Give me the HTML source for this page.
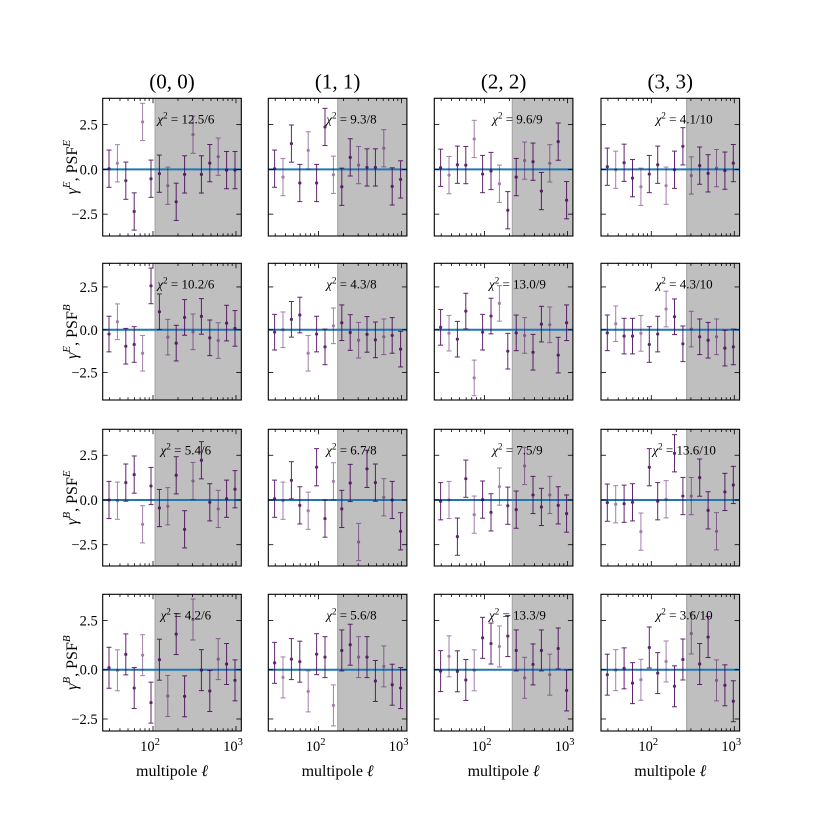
<!DOCTYPE html>
<html><head><meta charset="utf-8"><style>
html,body{margin:0;padding:0;background:#fff}
svg{display:block;font-family:"Liberation Serif","DejaVu Serif",serif}
</style></head><body>
<svg id="fig" width="822" height="822" viewBox="0 0 822 822" xmlns="http://www.w3.org/2000/svg"></svg>
<script>
const colTitles = ["(0, 0)","(1, 1)","(2, 2)","(3, 3)"];
const chiLabels = [["12.5/6","9.3/8","9.6/9","4.1/10"],["10.2/6","4.3/8","13.0/9","4.3/10"],["5.4/6","6.7/8","7.5/9","13.6/10"],["4.2/6","5.6/8","13.3/9","3.6/10"]];
const shadeStart = [106,170,216,267];
const logEllStart = 1.47, logEllStep = 0.1012, nPts = 16;
const yLims = [[-3.72,3.97],[-4.10,3.88],[-3.69,3.95],[-3.11,3.83]];
const yTicks = [-2.5,0,2.5];
const yTickLabels = ["\u22122.5","0.0","2.5"];
const xTicks = [100,1000];
const errVal = 1.04;
const vals00=[0.04,0.34,-0.63,-2.35,2.65,-0.52,-0.24,-0.91,-1.81,-0.28,1.94,-0.28,0.35,0.71,-0.04,-0.04];
const vals01=[0.04,-0.43,1.44,-0.76,1.06,-0.76,2.37,-0.30,-0.97,0.67,0.24,0.11,0.11,1.18,-0.95,-0.56];
const vals02=[0.09,-0.32,0.26,0.24,1.70,-0.26,-0.09,-0.80,-2.28,-0.43,0.49,0.43,-1.21,0.34,1.55,-1.72];
const vals03=[0.15,-0.02,0.37,-0.49,-0.97,-0.26,0.26,-0.91,-0.02,1.29,-0.34,0.21,-0.22,0.07,-0.07,0.35];
const vals10=[-0.25,0.47,-0.96,-0.86,-1.37,2.56,1.05,-0.43,-0.78,0.72,-0.12,0.78,-0.47,-0.63,0.39,0.08];
const vals11=[-0.14,0,0.61,0.86,-1.37,-0.25,-1.0,0.23,0.41,-0.16,-0.61,-0.27,-0.59,-0.41,-0.33,-1.13];
const vals12=[0.14,-0.20,-0.55,1.09,-2.81,-0.14,0.80,1.54,-1.25,-0.18,-0.33,-1.31,0.33,0.29,-1.48,0.41];
const vals13=[-0.18,0.35,-0.37,-0.37,-0.21,-0.86,-0.25,1.21,0.76,-0.82,0.04,-0.41,-0.61,-0.41,-1.07,-1.0];
const vals20=[0,-0.04,0.97,1.42,-1.36,0.78,-0.45,-0.35,1.38,-1.64,1.06,2.22,-0.13,-0.50,0.07,0.60];
const vals21=[0.07,-0.04,1.10,-0.30,-0.60,1.83,-1.04,1.04,-0.50,0.95,-2.35,1.74,0.97,0.15,0,-1.75];
const vals22=[-0.07,0,-2.05,1.19,-0.82,0.02,-0.69,0.75,-0.32,-0.54,1.90,0.28,-0.39,0.28,-0.30,-0.76];
const vals23=[-0.15,-0.24,-0.21,-0.13,-1.77,1.83,-0.07,0.04,2.61,0.22,0.22,1.25,-0.58,-1.75,0.45,0.84];
const vals30=[0.10,-0.03,0.78,-0.93,0.74,-1.67,0.51,-1.33,1.81,-1.35,2.55,-0.02,-1.08,0.54,0.29,-0.54];
const vals31=[0.35,-0.39,0.54,0.41,-1.10,0.79,0.64,-1.81,0.98,1.27,0.64,0.64,-0.57,0.17,-0.76,-0.93];
const vals32=[-0.07,0.68,-0.08,-0.52,-0.03,1.62,1.33,1.18,1.71,0.98,-0.41,0.27,0.98,-0.25,1.08,-1.05];
const vals33=[-0.25,-0.02,0.07,-0.68,-0.51,1.13,-0.17,0.42,-0.84,0.52,1.84,0.29,1.66,-0.54,-0.79,-1.60];
const allVals=[[vals00,vals01,vals02,vals03],[vals10,vals11,vals12,vals13],[vals20,vals21,vals22,vals23],[vals30,vals31,vals32,vals33]];
const rowLabelSup=[["E","E"],["E","B"],["B","E"],["B","B"]];

const NS="http://www.w3.org/2000/svg";
const svg=document.getElementById('fig');
function mk(tag,attrs,parent){const e=document.createElementNS(NS,tag);for(const k in attrs)e.setAttribute(k,attrs[k]);(parent||svg).appendChild(e);return e;}
const colX=[102.7,268.3,434.3,601], pw=138.6;
const rowY=[98.3,263.3,429.3,594.3], ph=[137.7,136.7,136.7,136.7];
const lxMin=1.394,lxMax=3.064;

for(let r=0;r<4;r++){for(let c=0;c<4;c++){
  const x0=colX[c],y0=rowY[r],h=ph[r];
  const ylo=yLims[r][0],yhi=yLims[r][1];
  const sx=v=>x0+(Math.log10(v)-lxMin)/(lxMax-lxMin)*pw;
  const sxl=l=>x0+(l-lxMin)/(lxMax-lxMin)*pw;
  const sy=v=>y0+(yhi-v)/(yhi-ylo)*h;
  const g=mk('g',{});
  
  
  const sh=mk('rect',{x:sx(shadeStart[c]),y:y0,width:x0+pw-sx(shadeStart[c]),height:h,fill:'#bfbfbf'},g);
  
  
  mk('line',{x1:sx(shadeStart[c]),x2:sx(shadeStart[c]),y1:y0,y2:y0+h,stroke:'#a8a8a8','stroke-width':1.2},g);
  const zl=mk('line',{x1:x0,x2:x0+pw,y1:sy(0),y2:sy(0),stroke:'#1f77b4','stroke-width':2},g);
  
  
  const vals=allVals[r][c];
  for(let i=0;i<nPts;i++){
    const l=logEllStart+i*logEllStep, px=sxl(l), v=vals[i];
    const op=(i%3===1)?0.5:0.85;
    const eb=mk('g',{opacity:op},g);
    
    
    mk('line',{x1:px,x2:px,y1:sy(v-errVal),y2:sy(v+errVal),stroke:'#440154','stroke-width':1},eb);
    mk('line',{x1:px-2.5,x2:px+2.5,y1:sy(v-errVal),y2:sy(v-errVal),stroke:'#440154','stroke-width':1},eb);
    mk('line',{x1:px-2.5,x2:px+2.5,y1:sy(v+errVal),y2:sy(v+errVal),stroke:'#440154','stroke-width':1},eb);
    mk('circle',{cx:px,cy:sy(v),r:1.6,fill:'#440154'},eb);
  }
  // ticks
  for(let d=1;d<=3;d++)for(let m=1;m<10;m++){
    const v=m*Math.pow(10,d),lg=Math.log10(v); if(lg<lxMin||lg>lxMax)continue;
    const L=m===1?5:2.7,px=sxl(lg);
    mk('line',{x1:px,x2:px,y1:y0+h,y2:y0+h-L,stroke:'#000','stroke-width':0.8},g);
    mk('line',{x1:px,x2:px,y1:y0,y2:y0+L,stroke:'#000','stroke-width':0.8},g);
  }
  yTicks.forEach((t,k)=>{const py=sy(t);
    mk('line',{x1:x0,x2:x0+5,y1:py,y2:py,stroke:'#000','stroke-width':0.8},g);
    mk('line',{x1:x0+pw,x2:x0+pw-5,y1:py,y2:py,stroke:'#000','stroke-width':0.8},g);
    if(c===0){const t2=mk('text',{x:x0-5,y:py+5,'text-anchor':'end','font-size':14.5},g);t2.textContent=yTickLabels[k];
      
      }
  });
  if(r===3){xTicks.forEach(t=>{const px=sx(t);
    const tt=mk('text',{x:px-3,y:y0+h+20,'text-anchor':'middle','font-size':14.5},g);
    
    
    tt.innerHTML='10<tspan dy="-6" font-size="10.5">'+Math.log10(t)+'</tspan>';});
    const xl=mk('text',{x:x0+pw/2,y:y0+h+45,'text-anchor':'middle','font-size':16},g);
    
    
    xl.innerHTML='multipole <tspan font-style="italic">ℓ</tspan>';
  }
  mk('rect',{x:x0,y:y0,width:pw,height:h,fill:'none',stroke:'#000','stroke-width':1.1},g);
  const ct=mk('text',{x:x0+pw*0.6,y:y0+25,'text-anchor':'middle','font-size':13},g);
  
  
  ct.innerHTML='<tspan font-style="italic">χ</tspan><tspan dy="-5" font-size="9">2</tspan><tspan dy="5"> = '+chiLabels[r][c]+'</tspan>';
  if(r===0){const tt=mk('text',{x:x0+pw/2,y:y0-10,'text-anchor':'middle','font-size':21},g);tt.textContent=colTitles[c];
    
    }
  if(c===0){const cy=y0+h/2;
    const yl=mk('text',{x:0,y:0,'text-anchor':'middle','font-size':16,transform:'translate(77,'+cy+') rotate(-90)'},g);
    
    
    yl.innerHTML='<tspan font-style="italic">γ</tspan><tspan dy="-7" font-size="11" font-style="italic">'+rowLabelSup[r][0]+'</tspan><tspan dy="7">, PSF</tspan><tspan dy="-7" font-size="11" font-style="italic">'+rowLabelSup[r][1]+'</tspan>';
  }
}}
</script>
</body></html>
